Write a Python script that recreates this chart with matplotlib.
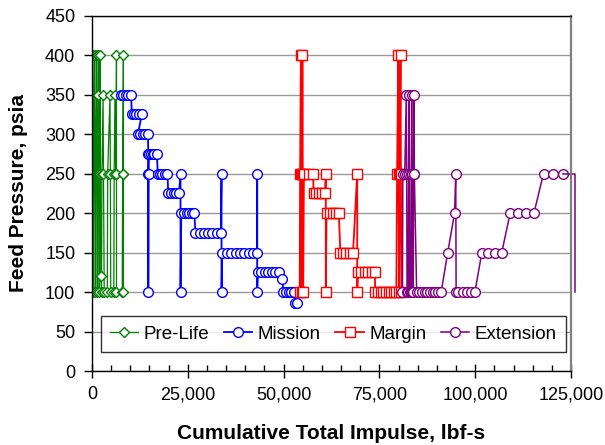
import matplotlib
matplotlib.use("Agg")
import matplotlib.pyplot as plt
from matplotlib.ticker import MultipleLocator, FuncFormatter

plt.rcParams["font.family"] = ["Liberation Sans", "DejaVu Sans"]

# feed pressure history vs cumulative impulse
prelife_x = [0, 100, 200, 300, 400, 500, 700, 800, 900, 1000, 1200, 1300, 1400,
             1500, 1600, 1700, 1800, 1900, 2000, 2100, 2200, 2300, 2500, 2600,
             2900, 3000, 3200, 4000, 4100, 4700, 4800, 4900, 5700, 5800, 6000,
             6200, 6400, 6400, 6400, 7900, 8000, 8200, 8200, 8200]
prelife_y = [100, 250, 400, 250, 100, 250, 400, 250, 100, 250, 400, 250, 100,
             250, 350, 400, 250, 100, 250, 400, 250, 120, 100, 250,
             350, 250, 100, 100, 250, 350, 250, 100, 100, 250, 350,
             250, 400, 250, 100, 100, 250, 400, 250, 100]

mission_x = [7600, 8200, 8800, 9400, 10200,
             10400, 11000, 11600, 12200, 13000,
             12000, 12600, 13200, 13800, 14600,
             14700, 14700, 14700, 14750, 14800, 15300, 15800, 16300, 16900,
             17200, 17800, 18400, 19000, 19700,
             19900, 20600, 21300, 22000, 22700,
             23100, 23100,
             23300, 24000, 24700, 25400, 26100, 26700,
             27000, 28100, 29200, 30300, 31400, 32500, 33600,
             33800, 33800,
             34000, 35150, 36300, 37450, 38600, 39750, 40900, 42050, 43100,
             43100, 43100,
             43300, 44200, 45100, 46000, 46900, 47800, 48700,
             49700, 49900, 50600, 51300, 52000, 52700, 53000, 53600]
mission_y = [350, 350, 350, 350, 350,
             325, 325, 325, 325, 325,
             300, 300, 300, 300, 300,
             275, 250, 100, 250, 275, 275, 275, 275, 275,
             250, 250, 250, 250, 250,
             225, 225, 225, 225, 225,
             250, 100,
             200, 200, 200, 200, 200, 200,
             175, 175, 175, 175, 175, 175, 175,
             250, 100,
             150, 150, 150, 150, 150, 150, 150, 150, 150,
             250, 100,
             125, 125, 125, 125, 125, 125, 125,
             116, 100, 100, 100, 100, 100, 86, 86]

margin_x = [54200, 54300, 54500, 54600, 54700, 54800, 54900, 55000, 55100,
            55300, 56500, 57700,
            57800, 58500, 59200, 60000, 60800,
            61000, 61000,
            61200, 62000, 62800, 63600, 64400,
            64800, 65600, 66400, 67200, 68100,
            69200, 69200,
            69400, 70300, 71200, 72100, 73000, 73800,
            73900, 74600, 75300, 76000, 76700, 77400, 78100, 78800, 79400,
            79600, 79900, 80000, 80100, 80300, 80500, 80600, 80700]
margin_y = [100, 250, 400, 250, 100, 250, 400, 250, 100,
            250, 250, 250,
            225, 225, 225, 225, 225,
            250, 100,
            200, 200, 200, 200, 200,
            150, 150, 150, 150, 150,
            250, 100,
            125, 125, 125, 125, 125, 125,
            100, 100, 100, 100, 100, 100, 100, 100, 100,
            250, 400, 250, 100, 250, 400, 250, 100]

ext_x = [81000, 81100, 81600, 82000, 82100, 82200, 82500, 82600, 82700, 82800,
         82900, 83200, 83300, 83400, 83500, 83600, 83800, 83900, 84000, 84100,
         84700,
         85400, 86100, 86800, 87500, 88200, 88900, 89600, 90300, 91100,
         92800, 94600, 94900, 95000,
         95600, 96700, 97800, 98900, 99900,
         101700, 103400, 105200, 106900,
         109100, 111200, 113200, 115300,
         117800, 120300, 122800,
         126000, 126000]
ext_y = [100, 250, 250, 350, 250, 100, 100, 250, 350, 250,
         100, 100, 250, 350, 250, 100, 100, 250, 350, 250,
         100,
         100, 100, 100, 100, 100, 100, 100, 100, 100,
         150, 200, 250, 100,
         100, 100, 100, 100, 100,
         150, 150, 150, 150,
         200, 200, 200, 200,
         250, 250, 250,
         250, 100]

fig, ax = plt.subplots(figsize=(6.05, 4.45), dpi=100)
fig.subplots_adjust(left=0.152, right=0.944, bottom=0.166, top=0.965)

ax.plot(prelife_x, prelife_y, "-", color="#008000", lw=0.9, marker="D", ms=4.8,
        mfc="white", mec="#008000", mew=1, label="Pre-Life")
ax.plot(mission_x, mission_y, "-", color="#0000ff", lw=1.3, marker="o", ms=7,
        mfc="white", mec="#0000ff", mew=1, label="Mission")
ax.plot(margin_x, margin_y, "-", color="#ff0000", lw=1.3, marker="s", ms=6.5,
        mfc="white", mec="#ff0000", mew=1, label="Margin")
ax.plot(ext_x[:-2], ext_y[:-2], "-", color="#800080", lw=1.1, marker="o", ms=7,
        mfc="white", mec="#800080", mew=1, label="Extension")
# tail of the extension line runs past the axis end without markers
ax.plot(ext_x[-3:], ext_y[-3:], "-", color="#800080", lw=1.1, clip_on=False)

ax.set_xlim(0, 125000)
ax.set_ylim(0, 450)
ax.xaxis.set_major_locator(MultipleLocator(25000))
ax.xaxis.set_minor_locator(MultipleLocator(5000))
ax.yaxis.set_major_locator(MultipleLocator(50))
ax.xaxis.set_major_formatter(FuncFormatter(lambda v, p: f"{v:,.0f}"))
ax.tick_params(axis="x", which="major", direction="inout", length=10, width=1,
               labelsize=13, pad=6)
ax.tick_params(axis="x", which="minor", direction="in", length=4, width=1)
ax.tick_params(axis="y", which="major", direction="out", length=6, width=1,
               labelsize=13, pad=6)

ax.grid(axis="y", color="#999999", lw=1)
ax.set_axisbelow(True)
for s in ["left", "bottom", "top"]:
    ax.spines[s].set_color("black")
    ax.spines[s].set_linewidth(1)
ax.spines["right"].set_color("#808080")
ax.spines["right"].set_linewidth(1.6)

ax.set_xlabel("Cumulative Total Impulse, lbf-s", fontsize=15, fontweight="bold",
              labelpad=15)
ax.set_ylabel("Feed Pressure, psia", fontsize=15, fontweight="bold", labelpad=12)

leg = ax.legend(loc="center", ncol=4, bbox_to_anchor=(0.018, 0.039, 0.972, 0.13),
                mode="expand", fontsize=13.5, frameon=True, fancybox=False,
                handlelength=1.5, handletextpad=0.3, columnspacing=0.8,
                borderpad=0.5, borderaxespad=0)
leg.get_frame().set_edgecolor("black")
leg.get_frame().set_linewidth(1)

fig.savefig("out.png", dpi=100)
